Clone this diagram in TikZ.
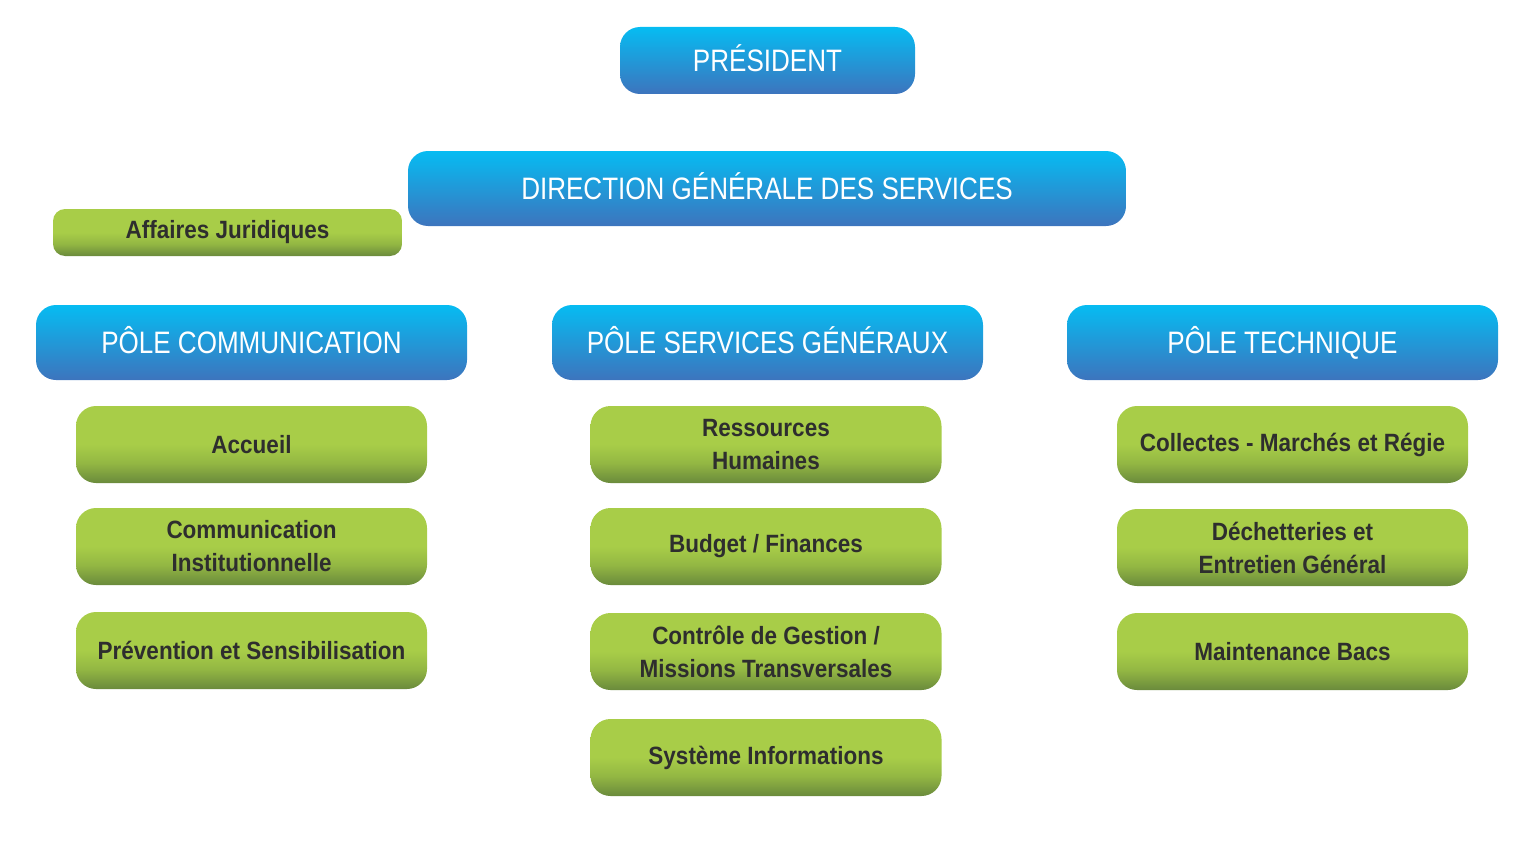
\documentclass[tikz,border=0pt]{standalone}
\usepackage{fontspec}
\setmainfont[FakeStretch=0.84]{Liberation Sans}
\newfontfamily\gfont[FakeStretch=0.9]{Liberation Sans}
\definecolor{btop}{HTML}{06BCF2}
\definecolor{bbot}{HTML}{3D74BD}
\definecolor{gtop}{HTML}{A8CD48}
\definecolor{gmid}{HTML}{93B743}
\definecolor{gbot}{HTML}{6A8A3C}
\definecolor{gtext}{HTML}{2E2E2E}
\pgfdeclareverticalshading{bluesh}{100bp}{color(0bp)=(bbot); color(25bp)=(bbot); color(75bp)=(btop); color(100bp)=(btop)}
\pgfdeclareverticalshading{greensh}{100bp}{color(0bp)=(gbot); color(25bp)=(gbot); color(38bp)=(gmid); color(50bp)=(gtop); color(100bp)=(gtop)}
\tikzset{
  box/.style={rounded corners=20pt, inner sep=0pt, align=center},
  bluebox/.style={box, shading=bluesh, text=white, font=\fontsize{31}{36}\selectfont, minimum height=75pt, text height=22pt, text depth=0pt},
  greenbox/.style={box, shading=greensh, text=gtext, font=\gfont\bfseries\fontsize{25}{33}\selectfont, minimum width=351pt, minimum height=77pt},
}
\begin{document}
\begin{tikzpicture}[x=1pt,y=-1pt]
\useasboundingbox (0,0) rectangle (1536,864);
\node[bluebox, minimum width=295pt, minimum height=67pt] (pres) at (767.5,60.5) {PRÉSIDENT};
\node[bluebox, minimum width=718pt] (dgs) at (767,188.5) {DIRECTION GÉNÉRALE DES SERVICES};
\node[greenbox, minimum width=349pt, minimum height=47pt, rounded corners=12pt] (aj) at (227.5,232.5) {Affaires Juridiques};
\node[bluebox, minimum width=431pt] (pc) at (251.5,342.5) {PÔLE COMMUNICATION};
\node[bluebox, minimum width=431pt] (psg) at (767.5,342.5) {PÔLE SERVICES GÉNÉRAUX};
\node[bluebox, minimum width=431pt] (pt) at (1282.5,342.5) {PÔLE TECHNIQUE};
\node[greenbox] (acc) at (251.5,444.5) {Accueil};
\node[greenbox] (ci) at (251.5,546.5) {Communication\\Institutionnelle};
\node[greenbox] (ps) at (251.5,650.5) {Prévention et Sensibilisation};
\node[greenbox] (rh) at (766,444.5) {Ressources\\Humaines};
\node[greenbox] (bf) at (766,546.5) {Budget / Finances};
\node[greenbox] (cg) at (766,651.5) {Contrôle de Gestion /\\Missions Transversales};
\node[greenbox] (si) at (766,757.5) {Système Informations};
\node[greenbox] (cm) at (1292.5,444.5) {Collectes - Marchés et Régie};
\node[greenbox] (de) at (1292.5,547.5) {Déchetteries et\\Entretien Général};
\node[greenbox] (mb) at (1292.5,651.5) {Maintenance Bacs};
\end{tikzpicture}
\end{document}
